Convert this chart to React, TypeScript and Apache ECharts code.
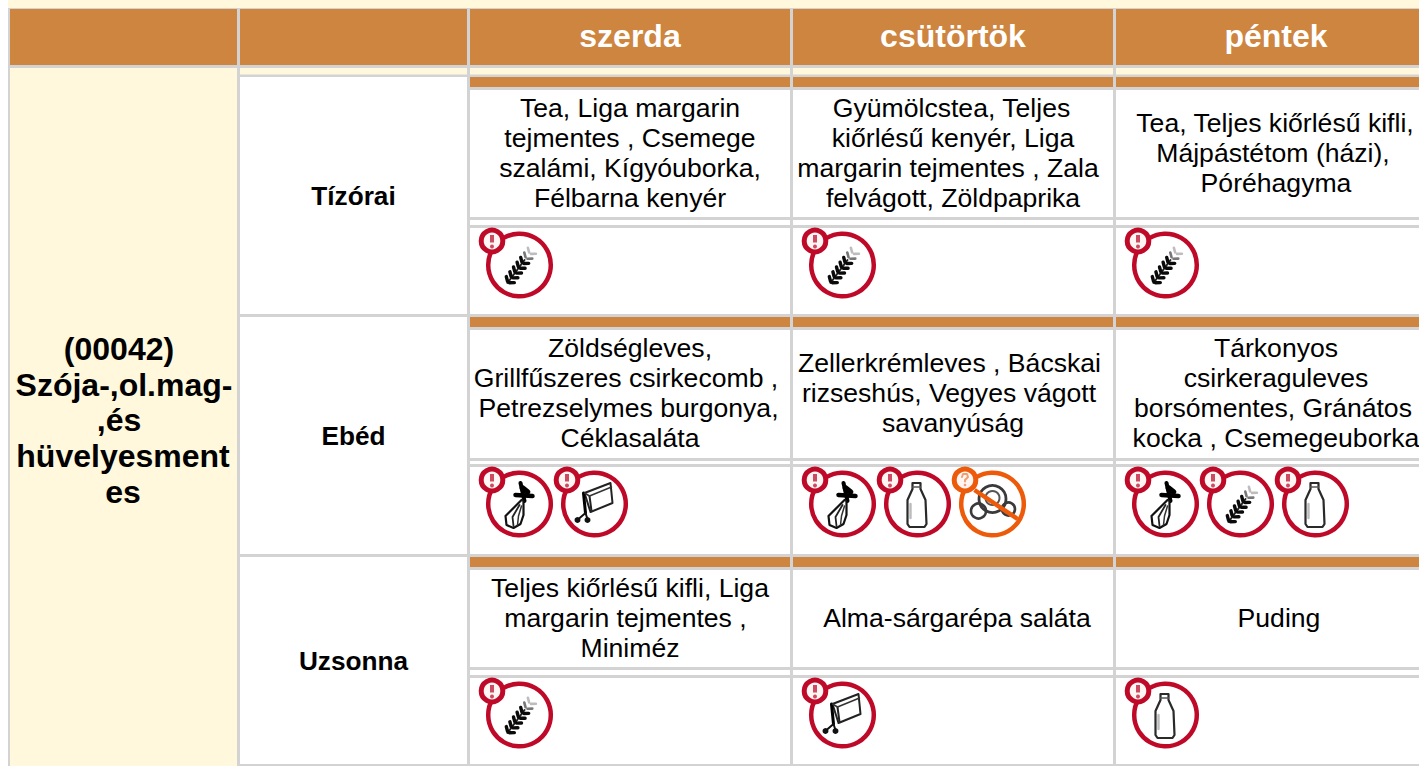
import React, { useEffect, useRef } from "react";
import * as echarts from "echarts";

const days = ["szerda", "csütörtök", "péntek"];
const dietLines = ["(00042)", "Szója-,ol.mag-", ",és", "hüvelyesment", "es"];
const meals = ["Tízórai", "Ebéd", "Uzsonna"];

const tizoraiDishes = [
  ["Tea, Liga margarin", "tejmentes , Csemege", "szalámi, Kígyóuborka,", "Félbarna kenyér"],
  ["Gyümölcstea, Teljes", "kiőrlésű kenyér, Liga", "margarin tejmentes , Zala", "felvágott, Zöldpaprika"],
  ["Tea, Teljes kiőrlésű kifli,", "Májpástétom (házi),", "Póréhagyma"],
];
const ebedDishes = [
  ["Zöldségleves,", "Grillfűszeres csirkecomb ,", "Petrezselymes burgonya,", "Céklasaláta"],
  ["Zellerkrémleves , Bácskai", "rizseshús, Vegyes vágott", "savanyúság"],
  ["Tárkonyos", "csirkeraguleves", "borsómentes, Gránátos", "kocka , Csemegeuborka"],
];
const uzsonnaDishes = [
  ["Teljes kiőrlésű kifli, Liga", "margarin tejmentes ,", "Miniméz"],
  ["Alma-sárgarépa saláta"],
  ["Puding"],
];
const tizoraiIcons = [["wheat"], ["wheat"], ["wheat"]];
const ebedIcons = [["celery", "cart"], ["celery", "bottle", "nut"], ["celery", "wheat", "bottle"]];
const uzsonnaIcons = [["wheat"], ["cart"], ["bottle"]];

const ORANGE = "#CD853F";
const CREAM = "#FFF8DC";
const GRAY = "#D3D3D3";
const RED = "#BE0A28";
const AMBER = "#EC5A0A";
const FONT = "'Liberation Sans', Arial, sans-serif";

const colX = [470, 793, 1116];
const colW = 320;
const textCx = [630, 953, 1276];
const rows = [
  { top: 77, textTop: 90, textBottom: 217, iconTop: 228, bottom: 314 },
  { top: 317, textTop: 330, textBottom: 458, iconTop: 467, bottom: 554 },
  { top: 557, textTop: 570, textBottom: 667, iconTop: 678, bottom: 764 },
];
// small horizontal corrections: the source lines keep trailing spaces, which shift their centring
const lineShift: Record<string, number> = {
  "Gyümölcstea, Teljes": -1.5,
  "margarin tejmentes , Zala": -5,
  "Tea, Teljes kiőrlésű kifli,": -1,
  "Májpástétom (házi),": -3,
  "Grillfűszeres csirkecomb ,": -4,
  "Petrezselymes burgonya,": -1.5,
  "Zellerkrémleves , Bácskai": -3.5,
  "rizseshús, Vegyes vágott": -4,
  "borsómentes, Gránátos": -3,
  "margarin tejmentes ,": -4.5,
  "Alma-sárgarépa saláta": 4,
  "Puding": 3,
  "(00042)": -4,
  "Szója-,ol.mag-": 1,
  ",és": -4,
};
const dietY = [349, 384.5, 420, 456, 492];

const rect = (x: number, y: number, width: number, height: number, fill: string) => ({
  type: "rect", silent: true, shape: { x, y, width, height }, style: { fill },
});
const text = (x: number, y: number, value: string, size: number, bold: boolean, fill: string) => ({
  type: "text", silent: true, x: x + (lineShift[value] || 0), y,
  style: {
    text: value, fill, font: `${bold ? "bold " : ""}${size}px ${FONT}`,
    textAlign: "center", textVerticalAlign: "middle",
  },
});
const line = (pts: number[][], stroke: string, w: number, extra: any = {}) => ({
  type: "polyline", silent: true, shape: { points: pts },
  style: { stroke, lineWidth: w, fill: "none", lineJoin: "round", lineCap: "round", ...extra },
});
const circle = (cx: number, cy: number, r: number, fill: string, stroke: string, w: number) => ({
  type: "circle", silent: true, shape: { cx, cy, r }, style: { fill, stroke, lineWidth: w },
});

function wheatParts() {
  const out: any[] = [];
  const p0 = [-11, 17];
  const u = [0.6, -0.8];
  const n = [0.8, 0.6];
  out.push(line([[-12, 18], [5, -5]], "#222", 2));
  for (let t = 0; t < 42; t += 6) {
    const c = t < 26 ? "#0A0A0A" : t < 32 ? "#777" : "#BDBDBD";
    const w = t < 26 ? 3.4 : 2.6;
    const px = p0[0] + u[0] * t;
    const py = p0[1] + u[1] * t;
    for (const s of [1, -1]) {
      out.push(line(
        [[px + s * n[0] * 1.2, py + s * n[1] * 1.2], [px + s * n[0] * 5 + u[0] * 3, py + s * n[1] * 5 + u[1] * 3]],
        c, w));
    }
  }
  return out;
}
function celeryParts() {
  return [
    line([[1, -21], [5, -3]], "#000", 4),
    line([[-4, -9], [13, -8]], "#000", 4.5),
    line([[3, -16], [8, -12]], "#000", 5.5),
    line([[2, -4], [-4, 2], [-14, 12], [-13, 21], [-6, 24], [1, 20], [4, 11], [4, -3]], "#111", 2.2),
    line([[0, 1], [-7, 13], [-6, 22]], "#222", 1.8),
    line([[2, 2], [-1, 12], [-2, 21]], "#333", 1.5),
  ];
}
function cartParts() {
  return [
    line([[-10, -11], [16, -21], [18, -1], [-4, 8], [-10, -11]], "#222", 2),
    line([[-11, -11], [-9, 9]], "#000", 3),
    line([[-5, -8], [-3, 7]], "#222", 2),
    line([[-10, -11], [-5, -8], [17, -17]], "#333", 1.5),
    line([[-9, 9], [-16, 15]], "#111", 2),
    line([[-9, 9], [-7, 15]], "#111", 2),
    circle(-17, 16, 3, "#111", "#111", 0),
    circle(-7, 16, 3, "#111", "#111", 0),
  ];
}
function bottleParts() {
  return [
    line([[-5, -21], [3, -21], [3, -15], [8, -4], [9, 20], [7, 23], [-8, 23], [-10, 20], [-10, -4], [-5, -15], [-5, -21]], "#2A2A2A", 2.2),
    line([[-5, -17], [3, -17]], "#555", 1.4),
    line([[-7, 0], [-7, 14]], "#BBB", 2.4),
  ];
}
function nutParts() {
  return [
    circle(0, -5, 13.5, "rgba(255,255,255,0)", "#3A3A3A", 2.8),
    circle(0, -6, 7, "rgba(255,255,255,0)", "#555", 2),
    circle(-14, 7, 7.5, "rgba(255,255,255,0)", "#3A3A3A", 2.6),
    circle(16, 5, 6.5, "rgba(255,255,255,0)", "#3A3A3A", 2.6),
    line([[-18, -14], [25, 15]], AMBER, 4.5, { lineCap: "butt" }),
  ];
}
const iconParts: Record<string, () => any[]> = {
  wheat: wheatParts, celery: celeryParts, cart: cartParts, bottle: bottleParts, nut: nutParts,
};

function icon(name: string, cx: number, cy: number) {
  const color = name === "nut" ? AMBER : RED;
  const mark = name === "nut"
    ? [
        line([[-3, -3], [-2, -6], [2, -6], [3, -3], [0, 0], [0, 1.5]], "#F0A070", 2),
        circle(0, 5, 1.3, "#F0A070", "#F0A070", 0),
      ]
    : [line([[0, -6], [0, 1.5]], "#CC4A62", 4, { lineCap: "butt" }), circle(0, 5.5, 2, "#CC4A62", "#CC4A62", 0)];
  return {
    type: "group", silent: true, x: cx, y: cy,
    children: [
      circle(0, 0, 31.3, "#fff", color, 4.5),
      ...iconParts[name](),
      {
        type: "group", x: -27.5, y: -24,
        children: [circle(0, 0, 10.8, "#FFF6F4", color, 5), ...mark],
      },
    ],
  };
}

function buildElements() {
  const els: any[] = [];
  const W = 1419;
  const H = 766;
  els.push(rect(8, 0, W - 8, 8, CREAM));
  els.push(rect(8, 8, W - 8, H - 8, GRAY));
  [[10, 227], [240, 227], [470, 320], [793, 320], [1116, 303]].forEach(([x, w]) => els.push(rect(x, 9, w, 56, ORANGE)));
  days.forEach((d, i) => els.push(text(textCx[i], 36, d, 32, true, "#fff")));
  els.push(rect(10, 68, 227, H - 68, CREAM));
  dietLines.forEach((l, i) => els.push(text(123, dietY[i], l, 32, true, "#000")));
  [[240, 227], [470, 320], [793, 320], [1116, 303]].forEach(([x, w]) => els.push(rect(x, 68, w, 6.5, CREAM)));
  const dishes = [tizoraiDishes, ebedDishes, uzsonnaDishes];
  const icons = [tizoraiIcons, ebedIcons, uzsonnaIcons];
  rows.forEach((r, m) => {
    els.push(rect(240, r.top, 227, r.bottom - r.top, "#fff"));
    els.push(text(353.5, (r.top + r.bottom) / 2, meals[m], 26.2, true, "#000"));
    colX.forEach((x, c) => {
      const w = c === 2 ? W - x : colW;
      els.push(rect(x, r.top, w, 10, ORANGE));
      els.push(rect(x, r.textTop, w, r.textBottom - r.textTop, "#fff"));
      els.push(rect(x, r.textBottom + 3, w, r.iconTop - r.textBottom - 6, "#fff"));
      els.push(rect(x, r.iconTop, w, r.bottom - r.iconTop, "#fff"));
      const ls = dishes[m][c];
      const mid = (r.textTop + r.textBottom) / 2 - 1;
      ls.forEach((l, i) => els.push(text(textCx[c], mid + (i - (ls.length - 1) / 2) * 30, l, 26.6, false, "#000")));
      icons[m][c].forEach((name, k) => els.push(icon(name, x + 49.5 + k * 75, r.iconTop + 37)));
    });
  });
  return els;
}

export default function App() {
  const ref = useRef<HTMLDivElement>(null);
  useEffect(() => {
    const chart = echarts.init(ref.current!, null, { renderer: "svg" });
    chart.setOption({ animation: false, backgroundColor: "#fff", graphic: { elements: buildElements() } });
    return () => chart.dispose();
  }, []);
  return <div ref={ref} style={{ position: "absolute", left: 0, top: 0, width: 1419, height: 766, overflow: "hidden" }} />;
}
